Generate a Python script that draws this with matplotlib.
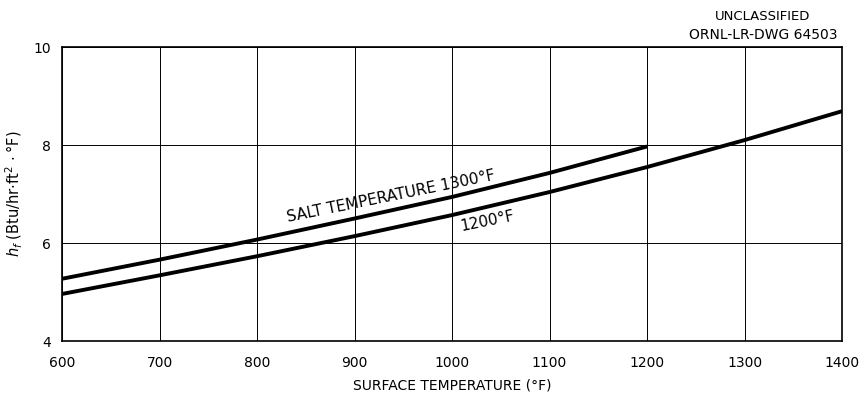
import matplotlib
matplotlib.use("Agg")
import matplotlib.pyplot as plt
import numpy as np

# Film heat-transfer coefficient vs. surface temperature
surface_temp = [600, 700, 800, 900, 1000, 1100, 1200]
hf_salt_1300 = [5.27, 5.66, 6.07, 6.50, 6.94, 7.43, 7.97]

surface_temp_1200 = [600, 700, 800, 900, 1000, 1100, 1200, 1300, 1400]
hf_salt_1200 = [4.96, 5.34, 5.73, 6.14, 6.57, 7.04, 7.55, 8.10, 8.69]

x_ticks = [600, 700, 800, 900, 1000, 1100, 1200, 1300, 1400]
y_ticks = [4, 6, 8, 10]

fig = plt.figure(figsize=(8.66, 3.94), dpi=100)
ax = fig.add_axes([0.0716, 0.1345, 0.9007, 0.7462])

ax.set_xlim(600, 1400)
ax.set_ylim(4, 10)
ax.set_xticks(x_ticks)
ax.set_yticks(y_ticks)
ax.tick_params(axis="x", length=0, labelsize=10, pad=11)
ax.tick_params(axis="y", length=0, labelsize=10, pad=8)
ax.grid(True, color="black", linewidth=0.7)
for s in ax.spines.values():
    s.set_linewidth(1.2)

ax.plot(surface_temp, hf_salt_1300, color="black", linewidth=2.8, solid_capstyle="butt")
ax.plot(surface_temp_1200, hf_salt_1200, color="black", linewidth=2.8, solid_capstyle="butt")

ax.text(937, 6.96, "SALT TEMPERATURE 1300°F", rotation=11.5, ha="center", va="center",
        fontsize=11, rotation_mode="anchor")
ax.text(1036, 6.45, "1200°F", rotation=11.5, ha="center", va="center",
        fontsize=11, rotation_mode="anchor")

ax.set_xlabel("SURFACE TEMPERATURE (°F)", fontsize=10, labelpad=6)
ax.set_ylabel(r"$h_f$ (Btu/hr$\cdot$ft$^{2}\,\cdot$°F)", fontsize=10.5, labelpad=6)

fig.text(0.881, 0.959, "UNCLASSIFIED", ha="center", va="center", fontsize=9.5)
fig.text(0.881, 0.911, "ORNL-LR-DWG 64503", ha="center", va="center", fontsize=10)

fig.savefig("out.png", dpi=100, facecolor="white")
